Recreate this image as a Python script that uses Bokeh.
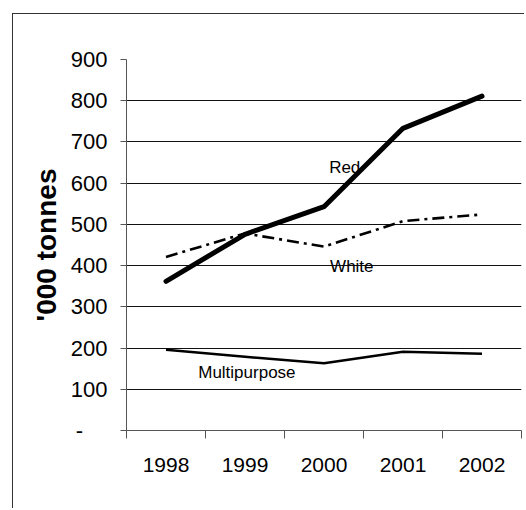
from bokeh.plotting import figure
from bokeh.models import Range1d, FixedTicker, Label
from bokeh.embed import file_html
from bokeh.resources import INLINE

years = ["1998", "1999", "2000", "2001", "2002"]
red = [362, 476, 543, 733, 811]
white = [421, 478, 446, 508, 524]
multipurpose = [196, 179, 163, 191, 186]
y_ticks = [0, 100, 200, 300, 400, 500, 600, 700, 800, 900]
y_tick_labels = ["-", "100", "200", "300", "400", "500", "600", "700", "800", "900"]
y_label = "'000 tonnes"

FONT = "Liberation Sans"

xs = [i + 0.5 for i in range(len(years))]

p = figure(width=512, height=495, x_range=Range1d(0, len(years)), y_range=Range1d(0, 900),
           output_backend="svg", toolbar_location=None,
           min_border_left=113, min_border_right=4, min_border_top=45, min_border_bottom=79)
p.margin = (13, 0, 0, 12)
p.styles = {"border-left": "1.5px solid #333333", "border-top": "1.5px solid #333333"}
p.outline_line_color = None
p.background_fill_color = "white"
p.border_fill_color = "white"

# x axis: tick marks between categories, labels at category centres
xa = p.xaxis[0]
xa.ticker = FixedTicker(ticks=xs, minor_ticks=list(range(len(years) + 1)))
xa.major_label_overrides = {x: y for x, y in zip(xs, years)}
xa.major_tick_line_color = None
xa.minor_tick_in = 0
xa.minor_tick_out = 8
xa.minor_tick_line_color = "#555555"
xa.axis_line_color = "#555555"
xa.major_label_text_font = FONT
xa.major_label_text_font_size = "21px"
xa.major_label_text_color = "black"
xa.major_label_standoff = 19

ya = p.yaxis[0]
ya.ticker = FixedTicker(ticks=y_ticks)
labs = dict(zip(y_ticks, y_tick_labels))
labs[0] = "-" + "\u00a0" * 4
ya.major_label_overrides = labs
ya.major_tick_in = 0
ya.major_tick_out = 6
ya.major_tick_line_color = "#555555"
ya.minor_tick_line_color = None
ya.axis_line_color = "#555555"
ya.major_label_text_font = FONT
ya.major_label_text_font_size = "22px"
ya.major_label_text_color = "black"
ya.major_label_standoff = 13
ya.axis_label = y_label
ya.axis_label_text_font = FONT
ya.axis_label_text_font_style = "bold"
ya.axis_label_text_font_size = "28px"
ya.axis_label_text_color = "black"
ya.axis_label_standoff = 6

p.xgrid.visible = False
p.ygrid.ticker = FixedTicker(ticks=y_ticks[1:-1])
p.ygrid.grid_line_color = "#111111"
p.ygrid.grid_line_width = 1

p.line(xs, multipurpose, line_color="black", line_width=2.5, line_join="round")
p.line(xs, white, line_color="black", line_width=2.6, line_dash="12 5 3 5")
p.line(xs, red, line_color="black", line_width=5, line_join="round", line_cap="round")

lab_style = dict(text_font=FONT, text_font_size="17px", text_color="black",
                 text_align="left", text_baseline="alphabetic")
p.add_layout(Label(x=2.565, y=637, text="Red", **lab_style))
p.add_layout(Label(x=2.577, y=398, text="White", **lab_style))
p.add_layout(Label(x=0.908, y=140, text="Multipurpose", **lab_style))

open("out.html", "w").write(file_html(p, INLINE))
